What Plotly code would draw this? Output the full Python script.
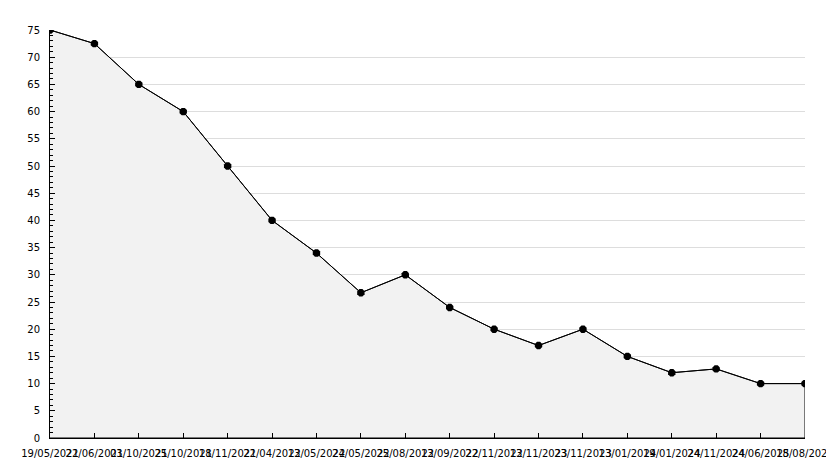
import plotly.graph_objects as go

dates = ["19/05/2021", "22/06/2021", "03/10/2021", "25/10/2021", "18/11/2021",
         "22/04/2022", "13/05/2022", "24/05/2022", "25/08/2022", "13/09/2022",
         "22/11/2022", "13/11/2023", "23/11/2023", "13/01/2024", "19/01/2024",
         "24/11/2024", "24/06/2025", "18/08/2025"]
values = [75, 72.5, 65, 60, 50, 40, 34, 26.7, 30, 24, 20, 17, 20, 15, 12, 12.7, 10, 10]
y_ticks = list(range(0, 80, 5))

idx = list(range(len(dates)))

fig = go.Figure()
# area outline (closed polygon)
fig.add_trace(go.Scatter(
    x=idx + [idx[-1], idx[0]], y=values + [0, 0],
    fill="toself", fillcolor="#f2f2f2", mode="lines",
    line=dict(color="black", width=1), hoverinfo="skip", showlegend=False))
fig.add_trace(go.Scatter(
    x=idx, y=values, mode="lines+markers",
    line=dict(color="black", width=1),
    marker=dict(symbol="octagon", size=8, color="black"),
    showlegend=False))

fig.update_layout(
    width=834, height=468,
    margin=dict(l=42, r=37, t=22, b=38, autoexpand=False),
    paper_bgcolor="white", plot_bgcolor="white",
    font=dict(family="DejaVu Sans", size=10, color="black"),
    xaxis=dict(
        tickmode="array", tickvals=idx, ticktext=dates,
        range=[idx[0], idx[-1]], showgrid=False, zeroline=False,
        showline=True, linecolor="black", linewidth=1, automargin=False,
        ticks="inside", ticklen=5, tickcolor="black", tickangle=0,
        ticklabelstandoff=6, tickfont=dict(size=10)),
    yaxis=dict(
        tickmode="array", tickvals=y_ticks, range=[0, 75],
        showgrid=True, gridcolor="#dddddd", gridwidth=1, zeroline=False,
        showline=True, linecolor="black", linewidth=1, automargin=False,
        ticks="inside", ticklen=5, tickcolor="black",
        ticklabelstandoff=7,
        minor=dict(dtick=1, ticks="inside", ticklen=3, tickcolor="black", showgrid=False),
        tickfont=dict(size=10)),
)

fig.write_html("out.html")
